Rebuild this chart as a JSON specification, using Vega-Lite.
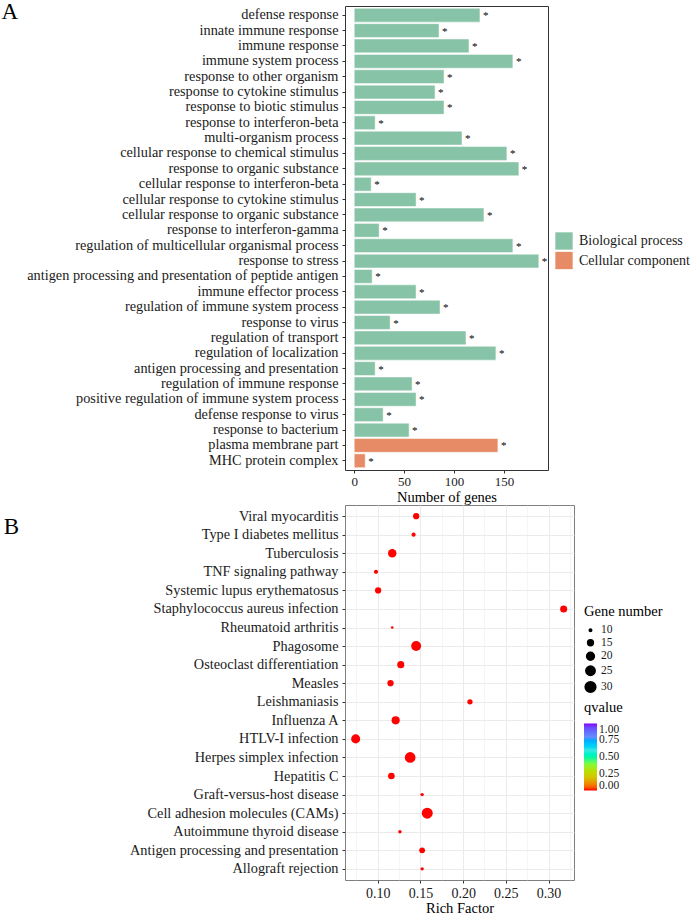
{
  "$schema": "https://vega.github.io/schema/vega-lite/v6.json",
  "padding": {"left": 1, "top": 0, "right": 5, "bottom": 0},
  "background": "white",
  "spacing": 0,
  "config": {
    "font": "Liberation Serif",
    "axis": {"labelFont": "Liberation Serif", "titleFont": "Liberation Serif", "labelColor": "#1a1a1a", "titleColor": "black", "titleFontWeight": "normal", "labelFontSize": 13, "titleFontSize": 14.5, "tickColor": "#333333", "tickSize": 3, "domain": false},
    "legend": {"labelFont": "Liberation Serif", "titleFont": "Liberation Serif", "titleFontWeight": "normal", "labelColor": "#1a1a1a", "titleColor": "black", "symbolBaseFillColor": "black", "symbolBaseStrokeColor": "black"},
    "title": {"font": "Liberation Serif", "fontWeight": "normal", "fontSize": 23, "color": "black"}
  },
  "resolve": {"scale": {"color": "independent", "size": "independent", "x": "independent", "y": "independent"}, "legend": {"color": "independent", "size": "independent"}},
  "vconcat": [
    {
      "title": {"text": "A", "orient": "left", "anchor": "end", "angle": 0, "align": "right", "baseline": "top", "frame": "bounds", "offset": -8, "dy": -5.5},
      "width": 203,
      "height": 464,
      "view": {"stroke": "#333333", "strokeWidth": 1},
      "data": {"values": [
        {"term": "defense response", "genes": 126, "category": "Biological process"},
        {"term": "innate immune response", "genes": 85, "category": "Biological process"},
        {"term": "immune response", "genes": 115, "category": "Biological process"},
        {"term": "immune system process", "genes": 159, "category": "Biological process"},
        {"term": "response to other organism", "genes": 90, "category": "Biological process"},
        {"term": "response to cytokine stimulus", "genes": 81, "category": "Biological process"},
        {"term": "response to biotic stimulus", "genes": 90, "category": "Biological process"},
        {"term": "response to interferon-beta", "genes": 21, "category": "Biological process"},
        {"term": "multi-organism process", "genes": 108, "category": "Biological process"},
        {"term": "cellular response to chemical stimulus", "genes": 153, "category": "Biological process"},
        {"term": "response to organic substance", "genes": 165, "category": "Biological process"},
        {"term": "cellular response to interferon-beta", "genes": 17, "category": "Biological process"},
        {"term": "cellular response to cytokine stimulus", "genes": 62, "category": "Biological process"},
        {"term": "cellular response to organic substance", "genes": 130, "category": "Biological process"},
        {"term": "response to interferon-gamma", "genes": 25, "category": "Biological process"},
        {"term": "regulation of multicellular organismal process", "genes": 159, "category": "Biological process"},
        {"term": "response to stress", "genes": 185, "category": "Biological process"},
        {"term": "antigen processing and presentation of peptide antigen", "genes": 18, "category": "Biological process"},
        {"term": "immune effector process", "genes": 62, "category": "Biological process"},
        {"term": "regulation of immune system process", "genes": 86, "category": "Biological process"},
        {"term": "response to virus", "genes": 36, "category": "Biological process"},
        {"term": "regulation of transport", "genes": 112, "category": "Biological process"},
        {"term": "regulation of localization", "genes": 142, "category": "Biological process"},
        {"term": "antigen processing and presentation", "genes": 21, "category": "Biological process"},
        {"term": "regulation of immune response", "genes": 58, "category": "Biological process"},
        {"term": "positive regulation of immune system process", "genes": 62, "category": "Biological process"},
        {"term": "defense response to virus", "genes": 29, "category": "Biological process"},
        {"term": "response to bacterium", "genes": 55, "category": "Biological process"},
        {"term": "plasma membrane part", "genes": 144, "category": "Cellular component"},
        {"term": "MHC protein complex", "genes": 11, "category": "Cellular component"}
      ]},
      "encoding": {
        "y": {"field": "term", "type": "nominal", "sort": null, "scale": {"paddingInner": 0.1, "paddingOuter": 0.15}, "axis": {"title": null, "labelPadding": 4, "labelLimit": 500, "labelFontSize": 14.3}},
        "x": {"field": "genes", "type": "quantitative", "scale": {"domain": [-9.24, 194.2], "nice": false, "zero": false}, "axis": {"values": [0, 50, 100, 150], "title": "Number of  genes", "grid": false, "labelPadding": 2, "titlePadding": 2}}
      },
      "layer": [
        {
          "mark": {"type": "bar", "stroke": "white", "strokeWidth": 0.5},
          "encoding": {
            "x2": {"datum": 0},
            "color": {"field": "category", "type": "nominal", "scale": {"domain": ["Biological process", "Cellular component"], "range": ["#87C3A6", "#E68B65"]}, "legend": {"title": null, "orient": "none", "legendX": 210, "legendY": 226, "symbolType": "square", "symbolSize": 300, "symbolStrokeWidth": 0, "labelFontSize": 14, "rowPadding": 1.5, "labelOffset": 6}}
          }
        },
        {
          "mark": {"type": "text", "text": "*", "align": "left", "baseline": "middle", "dx": 3, "dy": 1, "fontSize": 11, "color": "black"}
        }
      ]
    },
    {
      "title": {"text": "B", "orient": "left", "anchor": "end", "angle": 0, "align": "right", "baseline": "top", "frame": "bounds", "offset": 95, "dy": 11},
      "width": 229,
      "height": 375,
      "view": {"stroke": "#7f7f7f", "strokeWidth": 1},
      "data": {"values": [
        {"pathway": "Viral myocarditis", "rich": 0.145, "count": 16, "qvalue": 0.0001},
        {"pathway": "Type I diabetes mellitus", "rich": 0.142, "count": 12, "qvalue": 0.0001},
        {"pathway": "Tuberculosis", "rich": 0.117, "count": 22, "qvalue": 0.0001},
        {"pathway": "TNF signaling pathway", "rich": 0.098, "count": 12, "qvalue": 0.0001},
        {"pathway": "Systemic lupus erythematosus", "rich": 0.1005, "count": 16, "qvalue": 0.0001},
        {"pathway": "Staphylococcus aureus infection", "rich": 0.3177, "count": 18, "qvalue": 0.0001},
        {"pathway": "Rheumatoid arthritis", "rich": 0.117, "count": 10, "qvalue": 0.0001},
        {"pathway": "Phagosome", "rich": 0.145, "count": 27, "qvalue": 0.0001},
        {"pathway": "Osteoclast differentiation", "rich": 0.127, "count": 18, "qvalue": 0.0001},
        {"pathway": "Measles", "rich": 0.115, "count": 16, "qvalue": 0.0001},
        {"pathway": "Leishmaniasis", "rich": 0.208, "count": 14, "qvalue": 0.0001},
        {"pathway": "Influenza A", "rich": 0.121, "count": 21, "qvalue": 0.0001},
        {"pathway": "HTLV-I infection", "rich": 0.0742, "count": 24, "qvalue": 0.0001},
        {"pathway": "Herpes simplex infection", "rich": 0.138, "count": 30, "qvalue": 0.0001},
        {"pathway": "Hepatitis C", "rich": 0.116, "count": 17, "qvalue": 0.0001},
        {"pathway": "Graft-versus-host disease", "rich": 0.152, "count": 11, "qvalue": 0.0001},
        {"pathway": "Cell adhesion molecules (CAMs)", "rich": 0.158, "count": 31, "qvalue": 0.0001},
        {"pathway": "Autoimmune thyroid disease", "rich": 0.126, "count": 11, "qvalue": 0.0001},
        {"pathway": "Antigen processing and presentation", "rich": 0.152, "count": 15, "qvalue": 0.0001},
        {"pathway": "Allograft rejection", "rich": 0.152, "count": 11, "qvalue": 0.0001}
      ]},
      "mark": {"type": "circle", "opacity": 1},
      "encoding": {
        "y": {"field": "pathway", "type": "nominal", "sort": null, "scale": {"type": "point", "padding": 0.6}, "axis": {"title": null, "grid": true, "gridColor": "#ebebeb", "gridWidth": 1, "labelFontSize": 14.3, "labelPadding": 4, "labelLimit": 500}},
        "x": {"field": "rich", "type": "quantitative", "scale": {"domain": [0.0617, 0.3298], "nice": false, "zero": false}, "axis": {"title": "Rich Factor", "values": [0.075, 0.1, 0.125, 0.15, 0.175, 0.2, 0.225, 0.25, 0.275, 0.3, 0.325], "labelExpr": "round(datum.value*1000)%50 != 0 ? '' : format(datum.value, '.2f')", "grid": true, "gridColor": "#ebebeb", "gridWidth": {"condition": {"test": "round(datum.value*1000)%50 != 0", "value": 0.5}, "value": 1}, "tickOpacity": {"condition": {"test": "round(datum.value*1000)%50 != 0", "value": 0}, "value": 1}, "labelPadding": 3, "titlePadding": 1, "labelFontSize": 14}},
        "size": {"field": "count", "type": "quantitative", "scale": {"domain": [10, 30], "range": [6.5, 115], "zero": false}, "legend": {"title": "Gene number", "values": [10, 15, 20, 25, 30], "orient": "none", "legendX": 239, "legendY": 100, "symbolFillColor": "black", "symbolStrokeColor": "black", "symbolType": "circle", "labelFontSize": 11.5, "titleFontSize": 14.5, "symbolOpacity": 1, "rowPadding": -0.5, "titlePadding": 5}},
        "color": {"field": "qvalue", "type": "quantitative", "scale": {"domain": [0, 1], "range": ["#FF0000", "#D4C600", "#7CFC3C", "#3CE8E0", "#6A8CFF", "#7F00FF"]}, "legend": {"title": "qvalue", "orient": "none", "legendX": 239, "legendY": 196, "direction": "vertical", "gradientLength": 67, "gradientThickness": 13, "gradientStrokeWidth": 0, "values": [0, 0.25, 0.5, 0.75, 1], "format": ".2f", "labelFontSize": 11.5, "titleFontSize": 14.5, "labelOverlap": false, "titlePadding": 8}}
      }
    }
  ]
}
